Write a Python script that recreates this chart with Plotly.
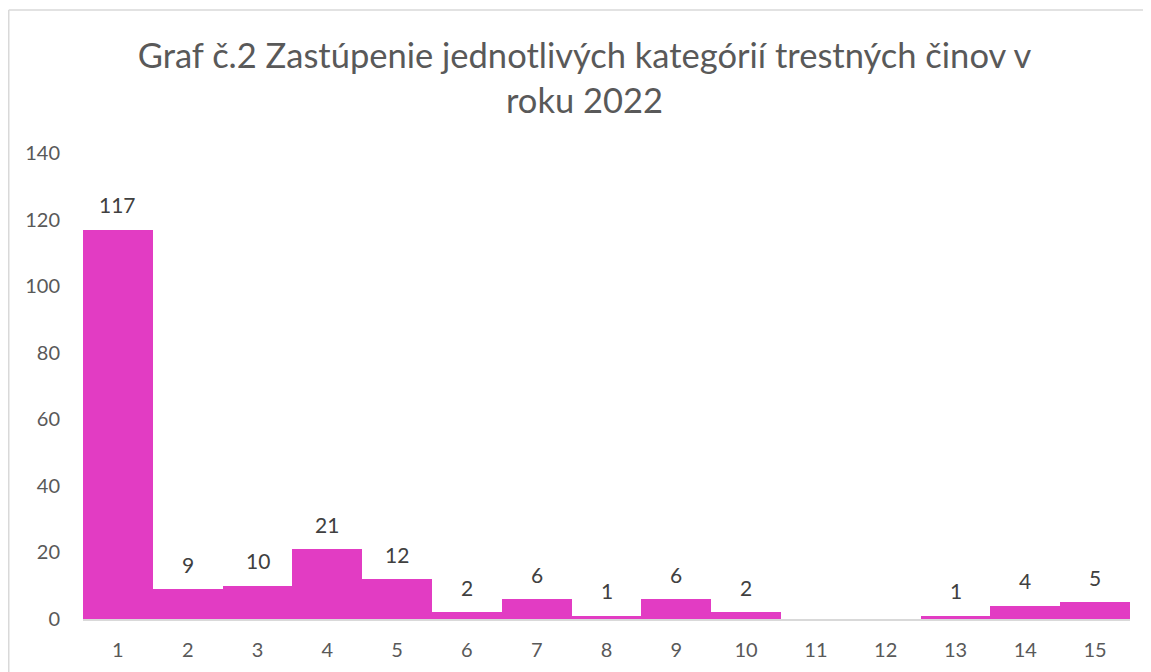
import plotly.graph_objects as go

categories = [str(i) for i in range(1, 16)]
values = [117, 9, 10, 21, 12, 2, 6, 1, 6, 2, 0, 0, 1, 4, 5]
title_text = "Graf č.2 Zastúpenie jednotlivých kategórií trestných činov v<br>roku 2022"
y_ticks = [0, 20, 40, 60, 80, 100, 120, 140]

BAR_COLOR = "#E23CC3"
FONT = "Lato"

# the page body adds an 8px offset; keep the figure inside the window (no scrollbars)
ML, MT, PW, PH = 75, 145, 1047, 466
W, H = 1143, 664

fig = go.Figure()
fig.add_trace(go.Bar(
    x=categories, y=values,
    marker=dict(color=BAR_COLOR, line=dict(width=0)),
    hoverinfo="x+y",
))

annotations = []
for i, v in enumerate(values):
    if v > 0:
        annotations.append(dict(
            x=i, y=v, xref="x", yref="y", text=str(v), showarrow=False,
            yshift=25, font=dict(family=FONT, size=21, color="#404040"),
        ))

bx0 = (0.75 - ML) / PW
by1 = 1 + (MT - 2) / PH
border = dict(color="#D9D9D9", width=1.5)

fig.update_layout(
    width=W, height=H,
    margin=dict(l=ML, r=W - ML - PW, t=MT, b=H - MT - PH),
    paper_bgcolor="white", plot_bgcolor="white",
    bargap=0,
    showlegend=False,
    title=dict(
        text=title_text, x=576.5 / W, xanchor="center",
        y=1 - 60 / H, yanchor="middle", xref="container", yref="container",
        font=dict(family=FONT, size=34.5, color="#595959"),
    ),
    xaxis=dict(
        type="category", showgrid=False, zeroline=False, automargin=False,
        range=[-0.5, len(categories) - 0.5],
        showline=True, linecolor="#D9D9D9", linewidth=1.5,
        ticks="", ticklabelstandoff=12,
        tickfont=dict(family=FONT, size=20, color="#595959"),
    ),
    yaxis=dict(
        range=[0, 140], tickvals=y_ticks, showgrid=False, zeroline=False,
        automargin=False,
        showline=False, ticks="", ticklabelstandoff=22,
        tickfont=dict(family=FONT, size=20, color="#595959"),
    ),
    annotations=annotations,
    shapes=[
        dict(type="line", xref="paper", yref="paper",
             x0=bx0, x1=1.3, y0=by1, y1=by1, line=border, layer="below"),
        dict(type="line", xref="paper", yref="paper",
             x0=bx0, x1=bx0, y0=-0.5, y1=by1, line=border, layer="below"),
    ],
)

fig.write_html("out.html")
